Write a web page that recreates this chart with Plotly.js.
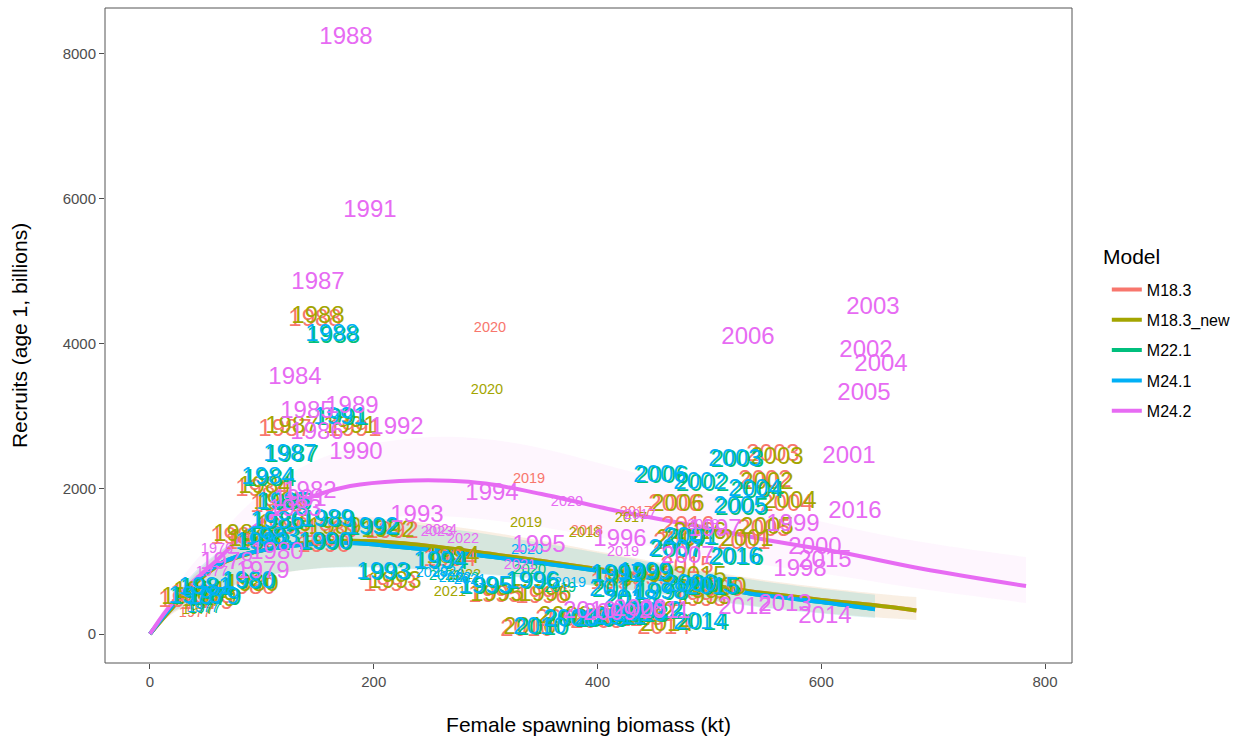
<!DOCTYPE html>
<html>
<head>
<meta charset="utf-8">
<script src="https://cdn.plot.ly/plotly-3.0.1.min.js"></script>
<style>html,body{margin:0;padding:0;background:#fff;}#chart{width:1239px;height:742px;}</style>
</head>
<body>
<div id="chart"></div>
<script>
// ---------------- DATA ----------------
const models = ['M18.3', 'M18.3_new', 'M22.1', 'M24.1', 'M24.2'];

// M18.3
const yearsM18_3 = [1977,1978,1979,1980,1981,1982,1983,1984,1985,1986,1987,1988,1989,1990,1991,1992,1993,1994,1995,1996,1997,1998,1999,2000,2001,2002,2003,2004,2005,2006,2007,2008,2009,2010,2011,2012,2013,2014,2015,2016,2017,2018,2019,2020];
const ssbM18_3 = [40.2,31.3,50.9,88.5,42.0,77.7,91.1,100.1,113.5,118.0,120.7,147.5,162.7,155.5,183.2,216.3,214.5,268.1,308.4,350.4,417.4,491.6,442.4,506.8,530.9,549.7,556.8,569.3,548.8,469.3,473.7,368.2,399.5,336.9,417.4,444.2,435.3,459.4,480.0,480.9,434.4,390.6,338.8,303.9];
const recM18_3 = [290,455,428,635,538,1324,1255,1986,1765,1462,2813,4330,1420,1214,2813,1407,676,1020,524,510,703,469,760,607,1255,2110,2469,1779,1434,1779,1255,193,165,55,193,262,207,83,924,1475,1682,1420,2138,4220];
const minorM18_3 = [1977,2017,2018,2019,2020];

// M18.3_new
const yearsM18_3new = [1977,1978,1979,1980,1981,1982,1983,1984,1985,1986,1987,1988,1989,1990,1991,1992,1993,1994,1995,1996,1997,1998,1999,2000,2001,2002,2003,2004,2005,2006,2007,2008,2009,2010,2011,2012,2013,2014,2015,2016,2017,2018,2019,2020,2021,2022];
const ssbM18_3new = [42.9,34.0,53.6,91.2,44.7,80.4,93.8,102.8,116.2,120.7,126.9,150.2,165.4,158.2,178.8,212.7,219.0,270.8,310.2,353.1,420.1,496.1,445.1,509.5,533.6,551.5,560.4,572.0,551.5,471.9,476.4,370.9,402.2,339.6,420.1,446.9,438.0,462.1,491.6,491.6,429.9,388.8,336.1,301.2,268.1,281.5];
const recM18_3new = [331,496,469,676,579,1365,1296,2027,1806,1503,2855,4372,1462,1255,2855,1420,717,1062,538,538,745,496,800,634,1296,2082,2427,1820,1462,1779,1296,234,207,83,234,303,248,124,786,1393,1600,1393,1531,3365,579,814];
const minorM18_3new = [1977,2017,2018,2019,2020,2021,2022];

// M22.1
const yearsM22_1 = [1977,1978,1979,1980,1981,1982,1983,1984,1985,1986,1987,1988,1989,1990,1991,1992,1993,1994,1995,1996,1997,1998,1999,2000,2001,2002,2003,2004,2005,2006,2007,2008,2009,2010,2011,2012,2013,2014,2015,2016,2017,2018,2019,2020,2021,2022];
const ssbM22_1 = [49,42,58,89,51,102,111,107,121,115,127,164,160,158,172,200,210,261,301,343,419,458,444,485,485,494,525,543,529,458,471,377,404,351,422,453,440,494,504,525,419,431,366.5,339.6,263.7,279.8];
const recM22_1 = [345,495,480,700,620,1240,1305,2130,1790,1525,2450,4100,1555,1240,2960,1445,825,975,630,700,795,550,825,660,1305,2060,2380,1965,1730,2160,1140,180,180,70,205,290,248,140,620,1035,590,455,634,883,800,772];
const minorM22_1 = [1977,2019,2020,2021,2022];

// M24.1
const yearsM24_1 = [1977,1978,1979,1980,1981,1982,1983,1984,1985,1986,1987,1988,1989,1990,1991,1992,1993,1994,1995,1996,1997,1998,1999,2000,2001,2002,2003,2004,2005,2006,2007,2008,2009,2010,2011,2012,2013,2014,2015,2016,2017,2018,2019,2020,2021,2022,2023,2024];
const ssbM24_1 = [47.4,40.2,56.3,87.6,49.2,100.1,109.0,105.5,118.9,113.5,125.1,162.7,158.2,156.4,169.8,198.4,208.3,259.2,299.4,341.4,417.4,455.8,442.4,482.7,482.7,491.6,522.9,540.8,527.4,455.8,469.3,375.4,402.2,348.6,420.1,451.4,438.0,491.6,502.3,522.9,416.5,429.0,375.4,337.0,286.0,272.6,252.0,266.4];
const recM24_1 = [359,510,496,717,634,1255,1324,2151,1806,1544,2468,4123,1572,1255,2979,1462,841,993,648,717,814,565,841,676,1324,2082,2399,1986,1751,2179,1158,193,193,83,221,303,262,152,634,1048,607,469,703,1158,745,772,841,855];
const minorM24_1 = [1977,2019,2020,2021,2022,2023,2024];

// M24.2
const yearsM24_2 = [1976,1977,1978,1979,1980,1981,1982,1983,1984,1985,1986,1987,1988,1989,1990,1991,1992,1993,1994,1995,1996,1997,1998,1999,2000,2001,2002,2003,2004,2005,2006,2007,2008,2009,2010,2011,2012,2013,2014,2015,2016,2017,2018,2019,2020,2021,2022,2023,2024];
const ssbM24_2 = [59.9,55.4,68.8,101.0,113.5,134.0,143.0,129.6,129.6,140.3,149.3,150.2,175.2,180.5,184.1,196.6,220.8,238.6,305.7,347.7,420.1,505.0,581.0,574.7,594.4,624.8,640.0,646.2,653.4,638.2,534.5,480.9,438.0,411.0,393.0,460.0,531.8,567.6,603.3,603.3,630.1,438.0,494.3,422.8,372.7,330.7,279.8,256.5,260.0];
const recM24_2 = [1172,855,979,855,1117,1848,1958,1710,3530,3061,2772,4840,8219,3130,2496,5833,2841,1627,1931,1214,1296,1434,883,1503,1186,2441,3903,4496,3710,3310,4082,1062,331,276,303,303,359,400,234,1007,1682,1641,1503,1131,1820,952,1310,1407,1434];
const minorM24_2 = [1976,1977,2017,2018,2019,2020,2021,2022,2023,2024];

// Fitted stock-recruit curves
const curveSsbM18 = [0,20,45,65,89,134,179,223,268,349,408,491,536,600,648,685];
const curveRecM18_3 = [0,360,760,980,1110,1250,1285,1255,1180,1010,880,700,590,470,395,325];
const curveRecM18_3new = [0,360,760,980,1110,1250,1285,1255,1180,1010,880,700,590,470,395,325];
const curveSsbM24_1 = [0,20,45,65,89,134,179,223,268,349,408,491,536,600,648];
const curveRecM22_1 = [0,390,786,990,1117,1228,1255,1200,1131,979,855,680,560,440,340];
const curveRecM24_1 = [0,390,786,990,1117,1228,1255,1200,1131,979,855,680,560,440,340];
const curveSsbM24_2 = [0,15,30,60,89,119,149,179,223,268,300,350,420,485,550,620,690,783];
const curveRecM24_2 = [0,330,600,1020,1434,1710,1917,2040,2110,2115,2075,1930,1690,1500,1300,1117,900,662];

// Confidence ribbons
const bandSsbM18 = [0,20,45,89,134,179,223,268,349,408,491,560,648,685];
const bandLoM18 = [0,280,450,740,880,930,910,870,760,650,490,350,230,193];
const bandHiM18 = [0,450,900,1400,1580,1620,1570,1490,1290,1120,890,720,560,510];
const bandSsbM24_1 = [0,20,45,89,134,179,223,268,349,408,491,560,648];
const bandLoM24_1 = [0,300,470,750,880,920,900,860,750,640,480,340,220];
const bandHiM24_1 = [0,470,930,1380,1540,1580,1530,1450,1260,1100,870,700,540];
const bandSsbM24_2 = [0,30,60,89,119,149,179,223,268,331,420,485,550,620,690,783];
const bandLoM24_2 = [0,420,760,1080,1300,1460,1560,1620,1620,1520,1280,1120,950,790,620,428];
const bandHiM24_2 = [0,800,1330,1800,2150,2400,2560,2680,2720,2620,2280,2000,1740,1480,1270,1062];

// ---------------- STYLE ----------------
const colors = ['#F8766D', '#A3A500', '#00BF7D', '#00B0F6', '#E76BF3'];
const fills = ['rgba(248,118,109,0.07)', 'rgba(163,165,0,0.07)', 'rgba(0,191,125,0.07)', 'rgba(0,176,246,0.07)', 'rgba(231,107,243,0.06)'];
const FONT = 'Liberation Sans, Arial, Helvetica, sans-serif';
const BIG = 24, SMALL = 14.5;

const series = [
  {years: yearsM18_3, ssb: ssbM18_3, rec: recM18_3, minor: minorM18_3, cx: curveSsbM18, cy: curveRecM18_3, bx: bandSsbM18, lo: bandLoM18, hi: bandHiM18},
  {years: yearsM18_3new, ssb: ssbM18_3new, rec: recM18_3new, minor: minorM18_3new, cx: curveSsbM18, cy: curveRecM18_3new, bx: bandSsbM18, lo: bandLoM18, hi: bandHiM18},
  {years: yearsM22_1, ssb: ssbM22_1, rec: recM22_1, minor: minorM22_1, cx: curveSsbM24_1, cy: curveRecM22_1, bx: bandSsbM24_1, lo: bandLoM24_1, hi: bandHiM24_1},
  {years: yearsM24_1, ssb: ssbM24_1, rec: recM24_1, minor: minorM24_1, cx: curveSsbM24_1, cy: curveRecM24_1, bx: bandSsbM24_1, lo: bandLoM24_1, hi: bandHiM24_1},
  {years: yearsM24_2, ssb: ssbM24_2, rec: recM24_2, minor: minorM24_2, cx: curveSsbM24_2, cy: curveRecM24_2, bx: bandSsbM24_2, lo: bandLoM24_2, hi: bandHiM24_2}
];

const traces = [];
// ribbons (lower edge, then upper edge filled down to it)
series.forEach((s, i) => {
  traces.push({
    type: 'scatter', mode: 'lines', x: s.bx, y: s.lo,
    line: {width: 0, shape: 'spline'}, hoverinfo: 'skip', showlegend: false
  });
  traces.push({
    type: 'scatter', mode: 'lines', x: s.bx, y: s.hi,
    fill: 'tonexty', fillcolor: fills[i], line: {width: 0, shape: 'spline'},
    hoverinfo: 'skip', showlegend: false
  });
});
// curves
series.forEach((s, i) => {
  traces.push({
    type: 'scatter', mode: 'lines', x: s.cx, y: s.cy,
    line: {color: colors[i], width: 4, shape: 'spline', smoothing: 1},
    name: models[i], legendgroup: models[i], showlegend: true
  });
});
// year labels
series.forEach((s, i) => {
  traces.push({
    type: 'scatter', mode: 'text', x: s.ssb, y: s.rec,
    text: s.years.map(String),
    textposition: 'middle center',
    textfont: {family: FONT, color: colors[i], size: s.years.map(y => s.minor.includes(y) ? SMALL : BIG)},
    hoverinfo: 'text', showlegend: false, cliponaxis: true
  });
});

const layout = {
  width: 1239, height: 742,
  margin: {l: 105, r: 167, t: 8, b: 79, autoexpand: false},
  paper_bgcolor: '#ffffff', plot_bgcolor: '#ffffff',
  font: {family: FONT, color: '#000'},
  showlegend: true,
  xaxis: {
    range: [-40.2, 824.1], tickvals: [0, 200, 400, 600, 800],
    showgrid: false, zeroline: false, showline: false,
    ticks: 'outside', ticklen: 5, tickcolor: '#4d4d4d', tickwidth: 1,
    tickfont: {family: FONT, size: 15, color: '#4D4D4D'},
    title: {text: 'Female spawning biomass (kt)', font: {family: FONT, size: 21, color: '#000'}, standoff: 28}
  },
  yaxis: {
    range: [-400, 8634], tickvals: [0, 2000, 4000, 6000, 8000],
    showgrid: false, zeroline: false, showline: false,
    ticks: 'outside', ticklen: 5, tickcolor: '#4d4d4d', tickwidth: 1,
    tickfont: {family: FONT, size: 15, color: '#4D4D4D'},
    title: {text: 'Recruits (age 1, billions)', font: {family: FONT, size: 21, color: '#000'}, standoff: 29}
  },
  legend: {
    x: 1.036, xanchor: 'left', y: 0.596, yanchor: 'top',
    font: {family: FONT, size: 16, color: '#000'},
    tracegroupgap: 6.5, bgcolor: 'rgba(0,0,0,0)'
  },
  annotations: [{
    text: 'Model', xref: 'paper', yref: 'paper', x: 1.03, y: 0.62, xanchor: 'left', yanchor: 'middle',
    showarrow: false, font: {family: FONT, size: 21, color: '#000'}
  }],
  shapes: [{type: 'rect', xref: 'paper', yref: 'paper', x0: 0, x1: 1, y0: 0, y1: 1, line: {color: '#555555', width: 1}, fillcolor: 'rgba(0,0,0,0)', layer: 'above'}]
};

Plotly.newPlot('chart', traces, layout, {displayModeBar: false, staticPlot: true});
</script>
</body>
</html>
